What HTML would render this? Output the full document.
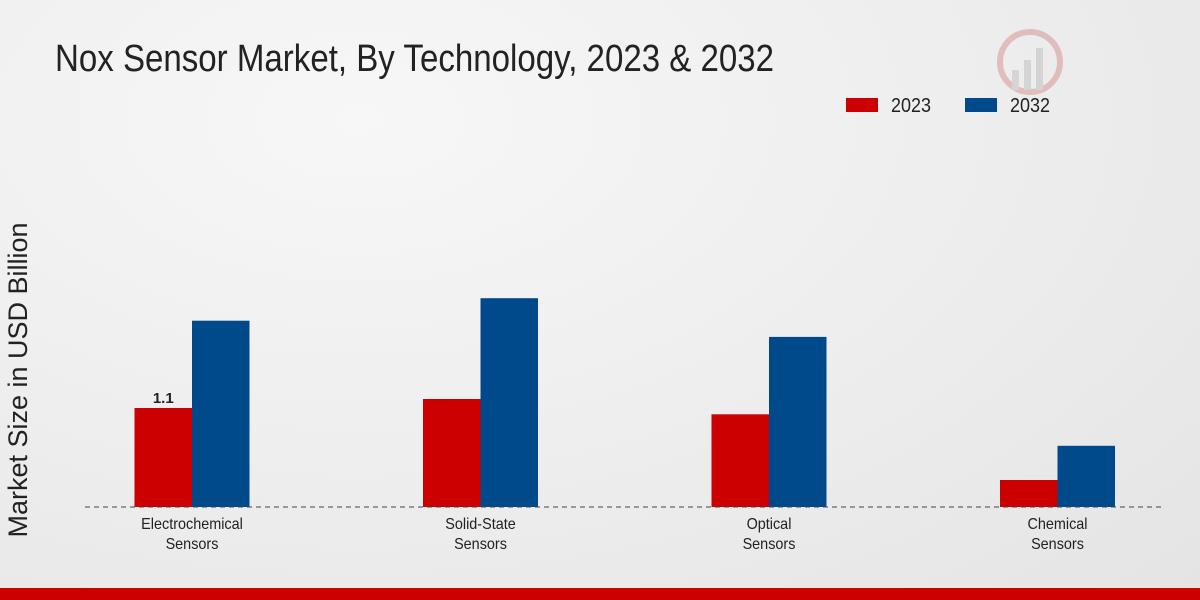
<!DOCTYPE html>
<html><head><meta charset="utf-8"><style>
html,body{margin:0;padding:0;}
body{width:1200px;height:600px;overflow:hidden;font-family:"Liberation Sans",sans-serif;background:radial-gradient(ellipse at 30% 20%,#f7f7f7 0%,#ececec 60%,#e4e4e4 100%);position:relative;}
</style></head><body>
<svg width="1200" height="600" style="position:absolute;left:0;top:0">
<text x="55" y="71" font-size="38" fill="#222" transform="scale(0.87,1)" transform-origin="55 71">Nox Sensor Market, By Technology, 2023 &amp; 2032</text>
<g opacity="0.35">
<circle cx="1030" cy="62" r="30" fill="none" stroke="#c66" stroke-width="6"/>
<rect x="1012" y="70" width="7" height="20" fill="#aaa"/><rect x="1024" y="60" width="7" height="30" fill="#aaa"/><rect x="1036" y="48" width="7" height="42" fill="#aaa"/>
</g>
<g>
<rect x="846" y="98" width="32" height="14" fill="#cc0000"/>
<text x="891" y="112" font-size="20" fill="#222" transform="scale(0.9,1)" transform-origin="891 112">2023</text>
<rect x="965" y="98" width="32" height="14" fill="#004a8c"/>
<text x="1010" y="112" font-size="20" fill="#222" transform="scale(0.9,1)" transform-origin="1010 112">2032</text>
</g>
<text transform="translate(27,380) rotate(-90)" text-anchor="middle" font-size="27" fill="#222">Market Size in USD Billion</text>
<g id="plot"></g>
<line x1="85" y1="507" x2="1165" y2="507" stroke="#444" stroke-width="1" stroke-dasharray="5,4"/>
<rect x="0" y="588" width="1200" height="12" fill="#cc0000"/>
</svg>
<script>
const categories=[["Electrochemical","Sensors"],["Solid-State","Sensors"],["Optical","Sensors"],["Chemical","Sensors"]];
const values2023=[1.1,1.2,1.03,0.3];
const values2032=[2.07,2.32,1.89,0.68];
const labels2023=["1.1",null,null,null];
const baseY=507, pxPerUnit=90, x0=192, step=288.5, bw=57.5;
const yScale=v=>baseY-v*pxPerUnit;
const xScale=i=>x0+i*step;
const NS="http://www.w3.org/2000/svg";
const g=document.getElementById('plot');
function mk(t,a){const e=document.createElementNS(NS,t);for(const k in a)e.setAttribute(k,a[k]);return e;}
categories.forEach((c,i)=>{
  const cx=xScale(i);
  const r=mk('rect',{x:cx-bw,y:yScale(values2023[i]),width:bw,height:baseY-yScale(values2023[i]),fill:'#cc0000'});
  
  
  g.appendChild(r);
  const b=mk('rect',{x:cx,y:yScale(values2032[i]),width:bw,height:baseY-yScale(values2032[i]),fill:'#004a8c'});
  
  
  g.appendChild(b);
  if(labels2023[i]){
    const t=mk('text',{x:cx-bw/2,y:yScale(values2023[i])-5,'text-anchor':'middle','font-size':15,'font-weight':'bold',fill:'#222'});
    t.textContent=labels2023[i];
    
    
    g.appendChild(t);
  }
  c.forEach((line,j)=>{
    const t=mk('text',{x:cx,y:529+j*20,'text-anchor':'middle','font-size':16,fill:'#222',transform:`scale(0.9,1)`,'transform-origin':`${cx} 0`});
    t.textContent=line;
    
    
    g.appendChild(t);
  });
});
</script>
</body></html>
